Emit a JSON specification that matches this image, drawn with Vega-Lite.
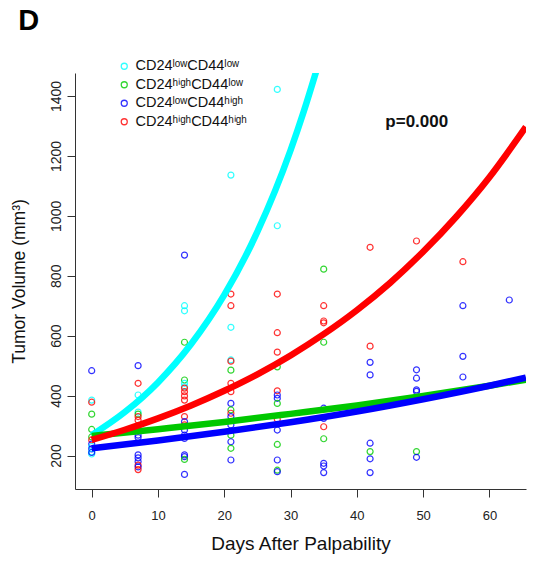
{
  "$schema": "https://vega.github.io/schema/vega-lite/v6.json",
  "width": 451,
  "height": 416,
  "autosize": {"type": "none"},
  "padding": {"left": 75, "top": 73, "right": 14, "bottom": 72},
  "background": "white",
  "config": {"font": "Liberation Sans", "view": {"stroke": null}},
  "datasets": {
    "obs": [
      {"d":0,"v":483,"g":"LH"},{"d":0,"v":385,"g":"LL"},{"d":0,"v":378,"g":"HH"},{"d":0,"v":338,"g":"HL"},{"d":0,"v":287,"g":"HL"},{"d":0,"v":262,"g":"HL"},{"d":0,"v":252,"g":"HH"},{"d":0,"v":238,"g":"LH"},{"d":0,"v":230,"g":"LL"},{"d":0,"v":222,"g":"LH"},{"d":0,"v":212,"g":"LL"},{"d":0,"v":205,"g":"LL"},{"d":0,"v":210,"g":"LH"},
      {"d":7,"v":500,"g":"LH"},{"d":7,"v":441,"g":"HH"},{"d":7,"v":402,"g":"LL"},{"d":7,"v":345,"g":"LL"},{"d":7,"v":338,"g":"HL"},{"d":7,"v":330,"g":"HH"},{"d":7,"v":318,"g":"HH"},{"d":7,"v":298,"g":"HL"},{"d":7,"v":285,"g":"LH"},{"d":7,"v":268,"g":"LH"},{"d":7,"v":260,"g":"LH"},{"d":7,"v":202,"g":"LH"},{"d":7,"v":192,"g":"LH"},{"d":7,"v":180,"g":"LH"},{"d":7,"v":168,"g":"HH"},{"d":7,"v":162,"g":"LH"},{"d":7,"v":153,"g":"HH"},
      {"d":14,"v":869,"g":"LH"},{"d":14,"v":700,"g":"LL"},{"d":14,"v":683,"g":"LL"},{"d":14,"v":578,"g":"HL"},{"d":14,"v":452,"g":"HL"},{"d":14,"v":441,"g":"LL"},{"d":14,"v":430,"g":"LL"},{"d":14,"v":425,"g":"HH"},{"d":14,"v":413,"g":"HH"},{"d":14,"v":399,"g":"HH"},{"d":14,"v":385,"g":"HH"},{"d":14,"v":330,"g":"HH"},{"d":14,"v":313,"g":"LH"},{"d":14,"v":302,"g":"HH"},{"d":14,"v":285,"g":"LH"},{"d":14,"v":268,"g":"LH"},{"d":14,"v":257,"g":"LH"},{"d":14,"v":202,"g":"LH"},{"d":14,"v":196,"g":"LH"},{"d":14,"v":187,"g":"HL"},{"d":14,"v":137,"g":"LH"},
      {"d":21,"v":1136,"g":"LL"},{"d":21,"v":739,"g":"HH"},{"d":21,"v":700,"g":"HH"},{"d":21,"v":628,"g":"LL"},{"d":21,"v":519,"g":"LL"},{"d":21,"v":515,"g":"HH"},{"d":21,"v":485,"g":"HL"},{"d":21,"v":441,"g":"HH"},{"d":21,"v":413,"g":"HH"},{"d":21,"v":374,"g":"LH"},{"d":21,"v":352,"g":"HL"},{"d":21,"v":341,"g":"HH"},{"d":21,"v":330,"g":"LH"},{"d":21,"v":302,"g":"LH"},{"d":21,"v":268,"g":"HL"},{"d":21,"v":246,"g":"LH"},{"d":21,"v":224,"g":"HL"},{"d":21,"v":185,"g":"LH"},
      {"d":28,"v":1422,"g":"LL"},{"d":28,"v":967,"g":"LL"},{"d":28,"v":739,"g":"HH"},{"d":28,"v":610,"g":"HH"},{"d":28,"v":545,"g":"HH"},{"d":28,"v":496,"g":"HL"},{"d":28,"v":416,"g":"HH"},{"d":28,"v":402,"g":"LH"},{"d":28,"v":391,"g":"LH"},{"d":28,"v":374,"g":"HL"},{"d":28,"v":321,"g":"HH"},{"d":28,"v":285,"g":"LH"},{"d":28,"v":237,"g":"HL"},{"d":28,"v":185,"g":"LH"},{"d":28,"v":151,"g":"HL"},{"d":28,"v":146,"g":"LH"},
      {"d":35,"v":822,"g":"HL"},{"d":35,"v":700,"g":"HH"},{"d":35,"v":649,"g":"HH"},{"d":35,"v":643,"g":"HH"},{"d":35,"v":578,"g":"HL"},{"d":35,"v":358,"g":"LH"},{"d":35,"v":324,"g":"LH"},{"d":35,"v":296,"g":"HH"},{"d":35,"v":256,"g":"HL"},{"d":35,"v":174,"g":"LH"},{"d":35,"v":165,"g":"LH"},{"d":35,"v":143,"g":"LH"},
      {"d":42,"v":895,"g":"HH"},{"d":42,"v":565,"g":"HH"},{"d":42,"v":511,"g":"LH"},{"d":42,"v":469,"g":"LH"},{"d":42,"v":241,"g":"LH"},{"d":42,"v":213,"g":"HL"},{"d":42,"v":189,"g":"LH"},{"d":42,"v":143,"g":"LH"},
      {"d":49,"v":916,"g":"HH"},{"d":49,"v":486,"g":"LH"},{"d":49,"v":458,"g":"LH"},{"d":49,"v":419,"g":"LH"},{"d":49,"v":414,"g":"LH"},{"d":49,"v":213,"g":"HL"},{"d":49,"v":194,"g":"LH"},
      {"d":56,"v":847,"g":"HH"},{"d":56,"v":700,"g":"LH"},{"d":56,"v":531,"g":"LH"},{"d":56,"v":462,"g":"LH"},
      {"d":63,"v":719,"g":"LH"}
    ],
    "fits": [
      {"d":0,"v":268,"g":"LL"},{"d":5,"v":345,"g":"LL"},{"d":10,"v":444,"g":"LL"},{"d":15,"v":572,"g":"LL"},{"d":20,"v":736,"g":"LL"},{"d":25,"v":947,"g":"LL"},{"d":30,"v":1219,"g":"LL"},{"d":32,"v":1349,"g":"LL"},{"d":34,"v":1492,"g":"LL"},
      {"d":0,"v":265,"g":"HL"},{"d":10,"v":288,"g":"HL"},{"d":20,"v":312,"g":"HL"},{"d":30,"v":339,"g":"HL"},{"d":40,"v":367,"g":"HL"},{"d":50,"v":399,"g":"HL"},{"d":60,"v":433,"g":"HL"},{"d":65.5,"v":453,"g":"HL"},
      {"d":0,"v":224,"g":"LH"},{"d":10,"v":250,"g":"LH"},{"d":20,"v":279,"g":"LH"},{"d":30,"v":311,"g":"LH"},{"d":40,"v":347,"g":"LH"},{"d":50,"v":388,"g":"LH"},{"d":60,"v":433,"g":"LH"},{"d":65.5,"v":460,"g":"LH"},
      {"d":0,"v":252,"g":"HH"},{"d":5,"v":286,"g":"HH"},{"d":10,"v":324,"g":"HH"},{"d":15,"v":367,"g":"HH"},{"d":20,"v":416,"g":"HH"},{"d":25,"v":471,"g":"HH"},{"d":30,"v":534,"g":"HH"},{"d":35,"v":605,"g":"HH"},{"d":40,"v":685,"g":"HH"},{"d":45,"v":776,"g":"HH"},{"d":50,"v":880,"g":"HH"},{"d":55,"v":997,"g":"HH"},{"d":60,"v":1129,"g":"HH"},{"d":65.5,"v":1297,"g":"HH"}
    ],
    "one": [{}]
  },
  "layer": [
    {
      "data": {"name": "obs"},
      "mark": {"type": "point", "shape": "circle", "filled": false, "size": 36, "strokeWidth": 1.2, "opacity": 0.8},
      "encoding": {
        "x": {"field": "d", "type": "quantitative",
          "scale": {"domain": [-2.52, 65.52], "nice": false, "zero": false},
          "axis": {"values": [0,10,20,30,40,50,60], "grid": false, "domainColor": "#333", "tickColor": "#333", "tickSize": 8, "labelFontSize": 13, "labelColor": "#222", "labelBaseline": "alphabetic", "labelPadding": 22, "title": "Days After Palpability", "titleFontSize": 19, "titleFontWeight": "normal", "titleColor": "#111", "titleBaseline": "alphabetic", "titleY": 60, "titleX": 225.5, "titleAlign": "center"}},
        "y": {"field": "v", "type": "quantitative",
          "scale": {"domain": [88.2, 1476.8], "nice": false, "zero": false},
          "axis": {"values": [200,400,600,800,1000,1200,1400], "format": "d", "grid": false, "domainColor": "#333", "tickColor": "#333", "tickSize": 8, "labelFontSize": 14, "labelColor": "#222", "labelAngle": 270, "labelAlign": "center", "labelBaseline": "alphabetic", "labelPadding": 7, "title": "Tumor Volume (mm³)", "titleFontSize": 17.5, "titleFontWeight": "normal", "titleColor": "#111", "titleAngle": 270, "titleBaseline": "alphabetic", "titleAlign": "center", "titleX": -51, "titleY": 208}},
        "color": {"field": "g", "type": "nominal",
          "scale": {"domain": ["LL","HL","LH","HH"], "range": ["#00FFFF","#00CD00","#0000FF","#FF0000"]},
          "legend": {"orient": "none", "legendX": 42, "legendY": -14, "title": null, "padding": 0, "symbolType": "circle", "symbolSize": 36, "symbolStrokeWidth": 1.3, "labelFontSize": 14.5, "labelColor": "#111", "labelOffset": 4, "rowPadding": 3.5,
            "labelExpr": "datum.label == 'LL' ? 'CD24ˡᵒʷCD44ˡᵒʷ' : datum.label == 'HL' ? 'CD24ʰⁱᵍʰCD44ˡᵒʷ' : datum.label == 'LH' ? 'CD24ˡᵒʷCD44ʰⁱᵍʰ' : 'CD24ʰⁱᵍʰCD44ʰⁱᵍʰ'"}}
      }
    },
    {
      "data": {"name": "fits"},
      "mark": {"type": "line", "strokeWidth": 6.5, "interpolate": "monotone", "clip": true},
      "encoding": {
        "x": {"field": "d", "type": "quantitative"},
        "y": {"field": "v", "type": "quantitative"},
        "stroke": {"field": "g", "type": "nominal",
          "scale": {"domain": ["LL","HL","LH","HH"], "range": ["#00FFFF","#00C800","#0000FF","#FF0000"]},
          "legend": null}
      }
    },
    {
      "data": {"name": "one"},
      "mark": {"type": "text", "text": "D", "fontSize": 29, "fontWeight": "bold", "align": "left", "baseline": "alphabetic", "color": "#000"},
      "encoding": {"x": {"datum": -11.1}, "y": {"datum": 1620}}
    },
    {
      "data": {"name": "one"},
      "mark": {"type": "text", "text": "p=0.000", "fontSize": 17, "fontWeight": "bold", "align": "left", "baseline": "alphabetic", "color": "#111"},
      "encoding": {"x": {"datum": 44.3}, "y": {"datum": 1297}}
    }
  ]
}
